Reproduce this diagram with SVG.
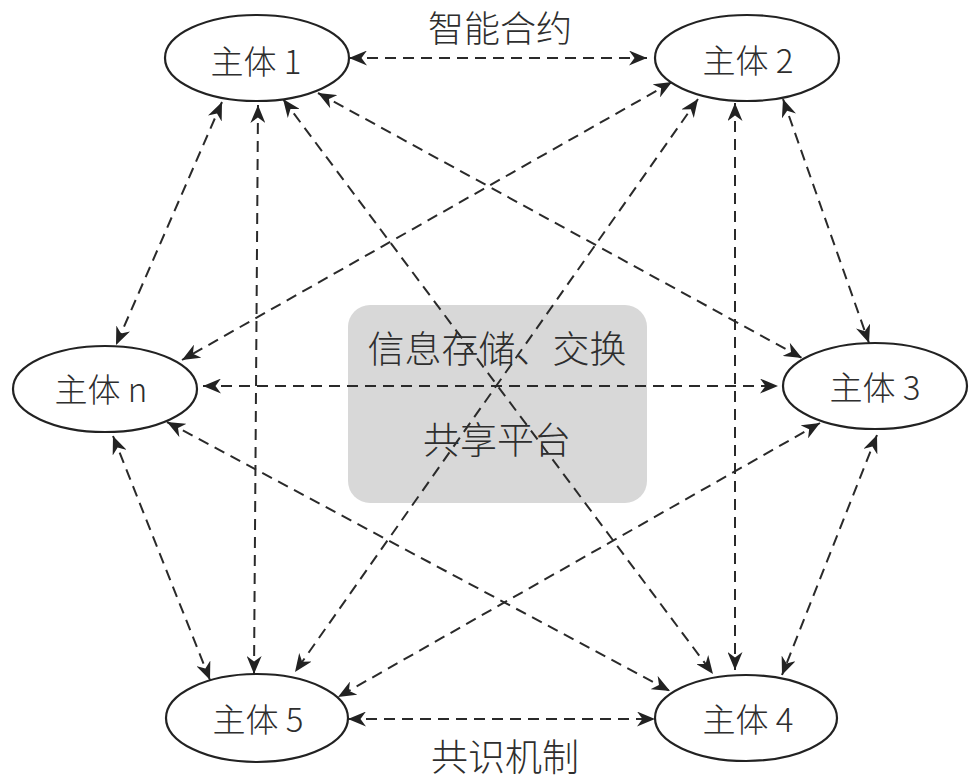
<svg xmlns="http://www.w3.org/2000/svg" width="980" height="781" viewBox="0 0 980 781">
<style>
.node{fill:#ffffff;stroke:#222222;stroke-width:2.2}
.lbl{font-family:"Noto Sans CJK SC","Liberation Sans",sans-serif;font-weight:300;fill:#2e2e2e;text-anchor:middle}
.nt{font-size:33px}
.big{font-size:37px}
.top{font-size:36px}
.conn line{stroke:#2a2a2a;stroke-width:2;stroke-dasharray:11 7;marker-start:url(#ah);marker-end:url(#ah)}
</style>
<defs>
<marker id="ah" markerUnits="userSpaceOnUse" markerWidth="18" markerHeight="15" viewBox="0 0 18 15" refX="18" refY="7.5" orient="auto-start-reverse">
<path d="M0,0 L18,7.5 L0,15 L5.5,7.5 Z" fill="#222222"/>
</marker>
</defs>
<rect width="980" height="781" fill="#ffffff"/>
<g id="platform">
<rect x="348" y="305" width="299" height="198" rx="22" ry="22" fill="#d8d8d8"/>
</g>
<g id="connectors" class="conn">
<line x1="349" y1="58" x2="647" y2="58"/>
<line x1="348" y1="719" x2="655" y2="719"/>
<line x1="203" y1="386" x2="778" y2="386"/>
<line x1="222" y1="102" x2="116" y2="345"/>
<line x1="258" y1="105" x2="254" y2="674"/>
<line x1="283" y1="99" x2="713" y2="674"/>
<line x1="318" y1="93" x2="802" y2="358"/>
<line x1="672" y1="82" x2="182" y2="360"/>
<line x1="698" y1="99" x2="295" y2="672"/>
<line x1="735" y1="103" x2="735" y2="670"/>
<line x1="783" y1="99" x2="869" y2="343"/>
<line x1="820" y1="423" x2="338" y2="697"/>
<line x1="877" y1="435" x2="782" y2="675"/>
<line x1="113" y1="436" x2="210" y2="680"/>
<line x1="167" y1="422" x2="670" y2="691"/>
</g>
<g id="platform-text">
<text class="lbl big" x="497" y="363">信息存储、交换</text>
<text class="lbl big" x="497" y="454">共享平台</text>
</g>
<g id="node1">
<ellipse class="node" cx="257" cy="58" rx="92" ry="43"/>
<text class="lbl nt" x="256" y="74">主体 1</text>
</g>
<g id="node2">
<ellipse class="node" cx="747" cy="58" rx="92" ry="43"/>
<text class="lbl nt" x="748" y="73">主体 2</text>
</g>
<g id="node3">
<ellipse class="node" cx="875" cy="386" rx="92" ry="43"/>
<text class="lbl nt" x="875" y="400">主体 3</text>
</g>
<g id="node4">
<ellipse class="node" cx="746" cy="718" rx="91" ry="43"/>
<text class="lbl nt" x="748" y="732">主体 4</text>
</g>
<g id="node5">
<ellipse class="node" cx="257" cy="718" rx="91" ry="44"/>
<text class="lbl nt" x="258" y="732">主体 5</text>
</g>
<g id="noden">
<ellipse class="node" cx="105" cy="389" rx="92" ry="43"/>
<text class="lbl nt" x="101" y="402">主体 n</text>
</g>
<g id="labels">
<text class="lbl top" x="500" y="42">智能合约</text>
<text class="lbl big" x="505" y="771">共识机制</text>
</g>
</svg>
